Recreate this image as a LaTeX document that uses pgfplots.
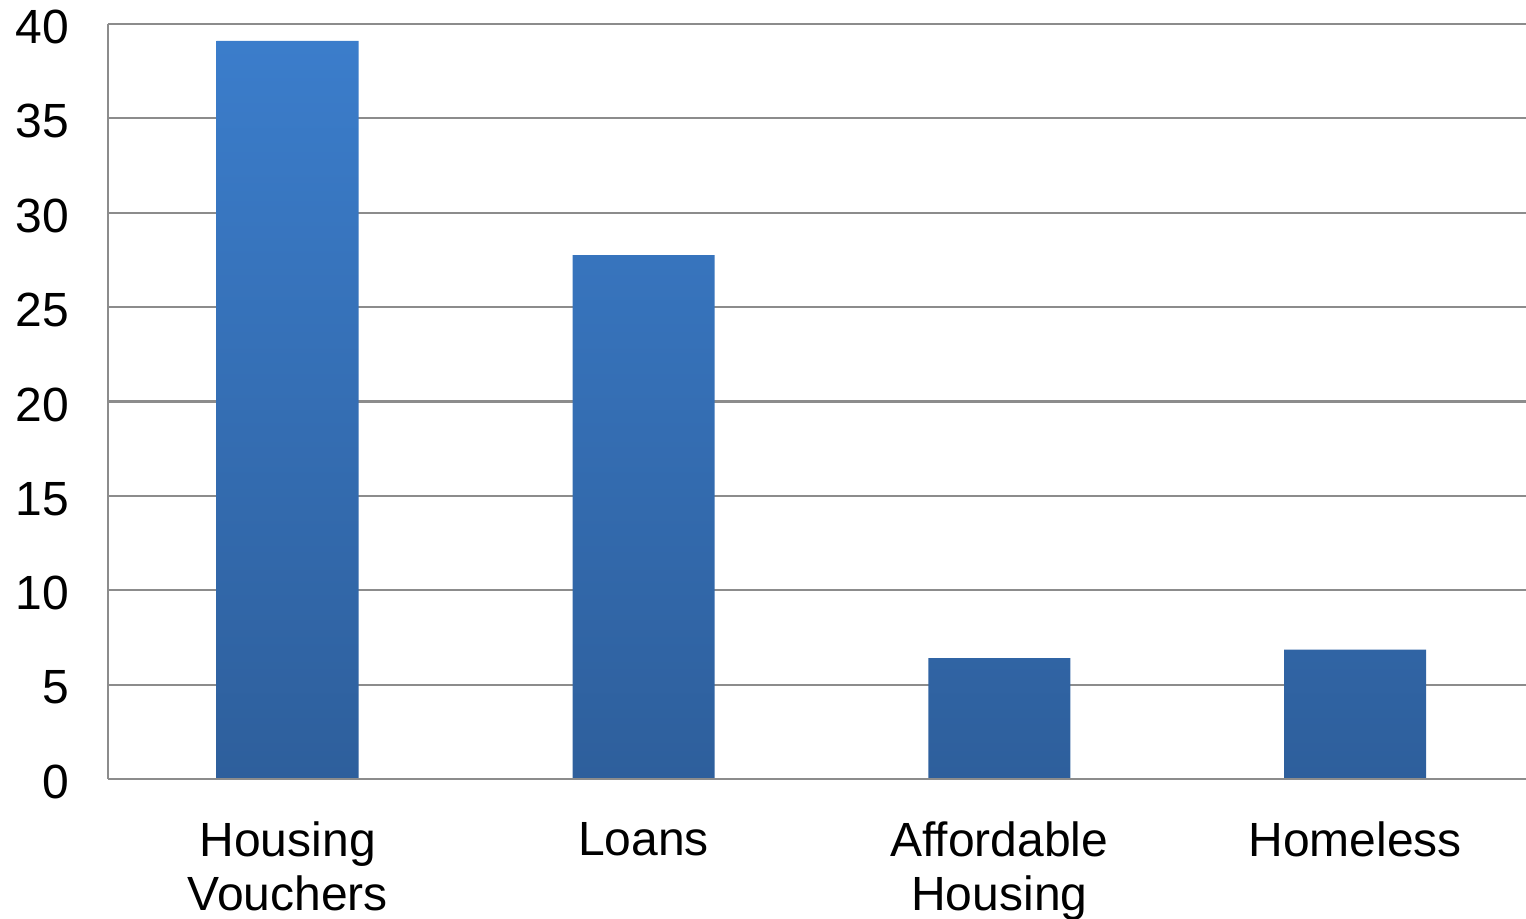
\documentclass[border=0pt]{standalone}
\usepackage{pgfplots}
\pgfplotsset{compat=1.18}
\usepackage{fontspec}
\setmainfont{Liberation Sans}
\definecolor{bartop}{HTML}{3B7DCB}
\definecolor{barbot}{HTML}{2E5F9C}
\definecolor{gridgray}{HTML}{8C8C8C}
\begin{document}
\begin{tikzpicture}
\begin{axis}[
  scale only axis,
  width=709pt, height=377.5pt,
  xmin=-0.505, xmax=3.48,
  ymin=0, ymax=40,
  ytick={0,5,...,40},
  xtick={0,1,2,3},
  xticklabels={{Housing\\Vouchers},Loans,{Affordable\\Housing},Homeless},
  axis lines=left,
  axis line style={gridgray, line width=1.1pt, -},
  ymajorgrids,
  grid style={gridgray, line width=1.1pt},
  major tick length=0pt,
  /pgf/number format/assume math mode=true,
  ticklabel style={font=\fontsize{24}{27}\selectfont},
  yticklabel style={xshift=-16pt, yshift=-1.5pt},
  xticklabel style={align=center, yshift=-18pt},
  clip=false,
]
\addplot[ybar, bar width=71pt, draw=none, top color=bartop, bottom color=barbot]
  coordinates {(0,39.1) (1,27.75) (2,6.4) (3,6.85)};
\draw[gridgray, line width=1.1pt] (axis cs:-0.505,0) -- (axis cs:3.48,0);
\end{axis}
\pgfresetboundingbox
\path[use as bounding box] ([xshift=-54pt,yshift=-70pt]current axis.south west) rectangle ([yshift=12pt]current axis.north east);
\end{tikzpicture}
\end{document}
